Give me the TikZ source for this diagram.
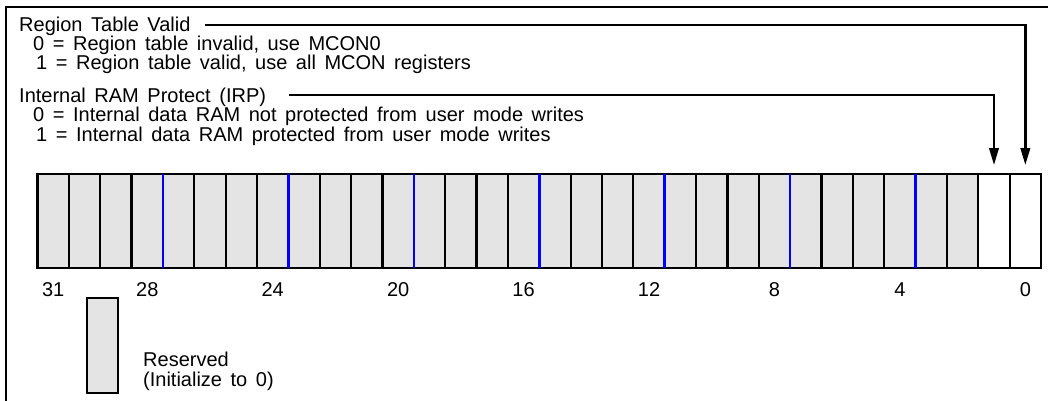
\documentclass[tikz,border=0pt]{standalone}
\usepackage{fontspec}
\setmainfont[WordSpace=1.54]{Liberation Sans}
\usetikzlibrary{arrows.meta}
\definecolor{resgray}{HTML}{E4E4E4}
\begin{document}
\begin{tikzpicture}[x=1pt,y=-1pt,
  lbl/.style={anchor=base west, inner sep=0pt, font=\fontsize{20}{24}\selectfont},
  num/.style={anchor=base, inner sep=0pt, font=\fontsize{20}{24}\selectfont},
  cellbox/.style={draw=black, line width=2.2pt, minimum width=31.36pt, minimum height=94pt, inner sep=0pt, outer sep=0pt},
  resbox/.style={cellbox, fill=resgray},
  freebox/.style={cellbox, fill=white},
  nibble/.style={draw=blue, line width=2.5pt},
  frameline/.style={draw=black, line width=2.4pt},
  conn/.style={draw=black, line width=2.3pt, -{Triangle[length=17pt,width=9.5pt]}}
]
\useasboundingbox (0,0) rectangle (1048,400);
% outer frame (left and top)
\draw[frameline] (6,401) -- (6,7) -- (1049,7);

% register cells
\foreach \i in {31,...,2} {
  \node[resbox] (b\i) at ({37.5+31.36*(31-\i)+15.68},221) {};
}
\foreach \i in {1,0} {
  \node[freebox] (b\i) at ({37.5+31.36*(31-\i)+15.68},221) {};
}
% nibble separators
\foreach \i in {27,23,19,15,11,7,3} {
  \draw[nibble] (b\i.north west) -- (b\i.south west);
}

% bit numbers
\foreach \i in {31,28,24,20,16,12,8,4,0} {
  \node[num] (n\i) at ([yshift=-28pt]b\i.south) {\i};
}

% field descriptions
\node[lbl] (rtv) at (19,31.5) {Region Table Valid};
\node[lbl] (rtv0) at (33,50.5) {0 = Region table invalid, use MCON0};
\node[lbl] (rtv1) at (36,69) {1 = Region table valid, use all MCON registers};
\node[lbl] (irp) at (19,102.5) {Internal RAM Protect (IRP)};
\node[lbl] (irp0) at (33,121.5) {0 = Internal data RAM not protected from user mode writes};
\node[lbl] (irp1) at (36,141) {1 = Internal data RAM protected from user mode writes};

% connectors
\coordinate (rtvstart) at (205,25);
\coordinate (irpstart) at (289,95);
\draw[conn] (rtvstart) -| ([yshift=9pt]b0.north);
\draw[conn] (irpstart) -| ([yshift=9pt]b1.north);

% legend
\node[resbox, minimum height=95pt] (legend) at (102.5,345.5) {};
\node[lbl] (legres) at (143,366) {Reserved};
\node[lbl] (leginit) at (143,386) {(Initialize to 0)};
\end{tikzpicture}
\end{document}
